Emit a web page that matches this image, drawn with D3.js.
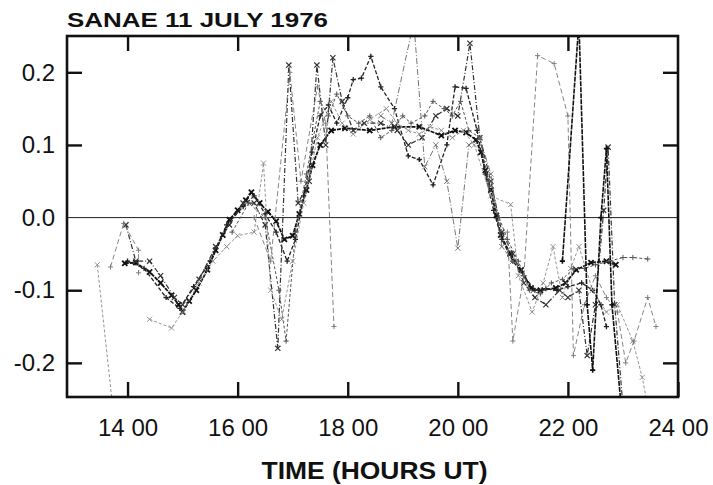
<!DOCTYPE html>
<html lang="en">
<head>
  <meta charset="UTF-8">
  <title>SANAE 11 July 1976</title>
  <script src="https://d3js.org/d3.v7.min.js"></script>
  <style>
    body { margin: 0; background: #fff; }
    text { font-family: "Liberation Sans", Arial, sans-serif; fill: #111; }
  </style>
</head>
<body>
  <svg id="chart" width="713" height="485"></svg>
  <script>
    const width = 713;
    const height = 485;
    const margin = { top: 36, right: 35, bottom: 88, left: 67 };

    const titleText = "SANAE  11 JULY 1976";
    const xTitle = "TIME (HOURS UT)";
    const xTicks = [14, 16, 18, 20, 22, 24];
    const xTickLabels = ["14 00", "16 00", "18 00", "20 00", "22 00", "24 00"];
    const yTicks = [0.2, 0.1, 0.0, -0.1, -0.2];
    const yTickLabels = ["0.2", "0.1", "0.0", "-0.1", "-0.2"];

    // each trace: [hour, value]; null breaks the line
    const trace1 = [[13.95,-0.063],[14.15,-0.062],[14.4,-0.075],[14.6,-0.09],[14.8,-0.107],[14.93,-0.12],[15.0,-0.13],[15.12,-0.115],[15.25,-0.1],[15.45,-0.072],[15.6,-0.045],[15.73,-0.024],[15.85,-0.003],[16.0,0.01],[16.15,0.024],[16.25,0.035],[16.4,0.02],[16.55,0.008],[16.7,-0.005],[16.85,-0.03],[17.0,-0.025],[17.12,0.005],[17.25,0.038],[17.36,0.072],[17.5,0.1],[17.7,0.12],[17.95,0.123],[18.4,0.12],[18.85,0.125],[19.3,0.125],[19.7,0.113],[19.95,0.12],[20.15,0.117],[20.33,0.107],[20.42,0.09],[20.5,0.065],[20.6,0.038],[20.7,0.003],[20.78,-0.024],[20.95,-0.05],[21.15,-0.072],[21.33,-0.097],[21.5,-0.1],[21.78,-0.097],[21.96,-0.09],[22.15,-0.072],[22.42,-0.062],[22.7,-0.06],[22.87,-0.065]];
    const trace2 = [[14.0,-0.06],[14.3,-0.07],[14.7,-0.11],[14.95,-0.125],[15.2,-0.095],[15.5,-0.06],[15.8,-0.01],[16.1,0.015],[16.3,0.03],[16.5,0.005],[16.7,-0.02],[16.9,-0.06],[17.05,-0.03],[17.2,0.03],[17.35,0.09],[17.5,0.14],[17.65,0.155],[17.8,0.13],[18.0,0.165],[18.1,0.19],[18.25,0.192],[18.42,0.222],[18.6,0.18],[18.85,0.15],[19.1,0.085],[19.3,0.08],[19.55,0.045],[19.8,0.1],[19.95,0.18],[20.15,0.178],[20.35,0.12],[20.5,0.06],[20.65,0.01],[20.8,-0.03],[21.0,-0.06],[21.2,-0.08],[21.4,-0.1],[21.6,-0.098],[21.8,-0.1],[22.0,-0.095],[22.25,-0.09],[22.45,-0.1],[22.6,-0.12],[22.7,-0.15]];
    const trace3 = [[13.97,-0.01],[14.15,-0.06],[14.4,-0.06],[14.6,-0.08],[14.85,-0.11],[15.0,-0.12],[15.3,-0.085],[15.6,-0.04],[15.85,-0.01],[16.1,0.02],[16.3,0.02],[16.5,-0.01],[16.73,-0.18],[16.93,0.21],[17.1,0.02],[17.3,0.05],[17.44,0.21],[17.6,0.1],[17.73,0.22],[17.9,0.16],[18.1,0.12],[18.3,0.13],[18.6,0.13],[18.9,0.12],[19.1,0.1],[19.35,0.11],[19.6,0.14],[19.8,0.15],[20.0,0.14],[20.22,0.24],[20.4,0.11],[20.6,0.05],[20.8,-0.02],[21.0,-0.05],[21.2,-0.09],[21.4,-0.11],[21.6,-0.12],[21.85,-0.1],[22.0,-0.11],[22.2,-0.1],[22.35,-0.19],[22.5,-0.12],[22.65,0.01],[22.73,0.097],[22.85,-0.12],[23.0,-0.26]];
    const trace4 = [[15.9,-0.02],[16.2,0.02],[16.5,0.0],[16.75,-0.1],[16.88,-0.17],[17.05,-0.02],[17.25,0.06],[17.5,0.16],[17.65,0.14],[17.8,0.17],[18.0,0.14],[18.2,0.13],[18.4,0.14],[18.6,0.11],[18.8,0.12],[19.0,0.14],[19.15,0.13],[19.4,0.14],[19.55,0.16],[19.75,0.15],[19.9,0.14],[20.05,0.16],[20.2,0.12],[20.4,0.11],[20.55,0.05],[20.75,0.0],[20.9,-0.03],[21.1,-0.06],[21.3,-0.1],[21.5,-0.105],[21.7,-0.09],[21.9,-0.085],[22.1,-0.07],[22.3,-0.07],[22.5,-0.065],[22.75,-0.06],[23.0,-0.055],[23.18,-0.055],[23.45,-0.057]];
    const trace5 = [[13.45,-0.065],[13.73,-0.26],null,[14.4,-0.14],[14.8,-0.152],[15.0,-0.13],[15.3,-0.09],[15.55,-0.06],[15.8,-0.04],[16.0,-0.025],[16.3,-0.02],[16.47,0.075],[16.6,-0.1],[16.8,-0.14],[17.0,-0.06],[17.2,0.02],[17.45,0.11],[17.7,0.16],[17.9,0.13],[18.1,0.115],[18.4,0.135],[18.7,0.15],[18.9,0.13],[19.1,0.12],[19.3,0.115],[19.5,0.125],[19.7,0.12],[19.9,0.11],[20.1,0.12],[20.3,0.1],[20.6,0.03],[20.96,0.018],[21.1,-0.08],[21.35,-0.13],[21.55,-0.09],[21.73,-0.04],[21.9,-0.11],[22.05,-0.07],[22.2,-0.04],[22.45,-0.1],[22.7,-0.13],[22.9,-0.12],[23.18,-0.17],[23.35,-0.22],[23.45,-0.26]];
    const trace6 = [[13.69,-0.068],[13.93,-0.008],[14.2,-0.045],[14.2,-0.076],null,[16.3,0.0],[16.6,-0.06],[16.95,0.2],[17.15,0.05],[17.45,0.18],[17.6,0.13],[17.75,-0.15],null,[20.9,-0.02],[21.0,-0.17],[21.2,-0.08],[21.45,0.223],[21.75,0.212],[22.0,0.14],[22.1,-0.19],[22.3,-0.12],[22.5,-0.08],[22.7,-0.11],[22.9,-0.13],[23.05,-0.2],[23.2,-0.17],[23.45,-0.11],[23.6,-0.15]];
    const trace7 = [[18.6,0.14],[18.8,0.13],[19.2,0.27],[19.4,0.07],[19.6,0.1],[19.8,0.05],[20.0,-0.042],[20.2,0.1],[20.4,0.11],[20.6,0.06],[20.8,-0.04],[21.0,-0.06]];
    const trace8 = [[21.9,-0.06],[22.2,0.27],[22.35,-0.12],[22.45,-0.21],[22.6,0.0],[22.7,0.095],[22.8,-0.12],[22.98,-0.27]];

    const traces = [
      { pts: trace1, color: "#111", w: 1.8, dash: "4,1", mark: "x" },
      { pts: trace2, color: "#222", w: 1.3, dash: "4,2", mark: "+" },
      { pts: trace3, color: "#333", w: 1.2, dash: "5,2,1,2", mark: "x" },
      { pts: trace4, color: "#555", w: 1.0, dash: "3,2", mark: "+" },
      { pts: trace5, color: "#888", w: 0.9, dash: "3,2", mark: "x" },
      { pts: trace6, color: "#777", w: 0.9, dash: "5,3", mark: "+" },
      { pts: trace7, color: "#666", w: 0.9, dash: "6,2,1,2", mark: "x" },
      { pts: trace8, color: "#111", w: 1.6, dash: "5,1", mark: "+" }
    ];

    const innerW = width - margin.left - margin.right;
    const innerH = height - margin.top - margin.bottom;

    const x = d3.scaleLinear().domain([12.9, 24]).range([0, innerW]);
    const y = d3.scaleLinear().domain([-0.247, 0.25]).range([innerH, 0]);

    const svg = d3.select("#chart");
    const g = svg.append("g").attr("transform", `translate(${margin.left},${margin.top})`);

    svg.append("defs").append("clipPath").attr("id", "plot-clip")
      .append("rect").attr("width", innerW).attr("height", innerH);

    // zero line
    g.append("line")
      .attr("x1", 0).attr("x2", innerW)
      .attr("y1", y(0)).attr("y2", y(0))
      .attr("stroke", "#222").attr("stroke-width", 1);

    const line = d3.line()
      .defined(d => d !== null)
      .x(d => x(d[0]))
      .y(d => y(d[1]));

    const plot = g.append("g").attr("clip-path", "url(#plot-clip)");

    traces.forEach(t => {
      plot.append("path")
        .datum(t.pts)
        .attr("d", line)
        .attr("fill", "none")
        .attr("stroke", t.color)
        .attr("stroke-width", t.w)
        .attr("stroke-dasharray", t.dash);

      const s = 2.6;
      const markPath = t.mark === "x"
        ? `M${-s},${-s}L${s},${s}M${-s},${s}L${s},${-s}`
        : `M${-s},0L${s},0M0,${-s}L0,${s}`;

      plot.selectAll(null)
        .data(t.pts.filter(d => d !== null))
        .enter()
        .append("path")
        .attr("transform", d => `translate(${x(d[0])},${y(d[1])})`)
        .attr("d", markPath)
        .attr("fill", "none")
        .attr("stroke", t.color)
        .attr("stroke-width", t.w);
    });

    // axes, ticks pointing inward on all sides
    const tickLen = 15;
    g.append("g")
      .attr("transform", `translate(0,${innerH})`)
      .call(d3.axisBottom(x).tickValues(xTicks).tickSizeInner(-tickLen).tickSizeOuter(0)
        .tickFormat((d, i) => xTickLabels[i]).tickPadding(22))
      .call(a => a.select(".domain").remove())
      .call(a => a.selectAll("line").attr("stroke", "#111").attr("stroke-width", 2.4))
      .call(a => a.selectAll("text").attr("font-size", 24).attr("fill", "#111"));

    g.append("g")
      .call(d3.axisTop(x).tickValues(xTicks.filter(d => d < 24)).tickSizeInner(-tickLen).tickSizeOuter(0).tickFormat(""))
      .call(a => a.select(".domain").remove())
      .call(a => a.selectAll("line").attr("stroke", "#111").attr("stroke-width", 2.4));

    g.append("g")
      .call(d3.axisLeft(y).tickValues(yTicks.filter(d => d !== 0)).tickSizeInner(-tickLen).tickSizeOuter(0).tickFormat(""))
      .call(a => a.select(".domain").remove())
      .call(a => a.selectAll("line").attr("stroke", "#111").attr("stroke-width", 2.4));

    g.append("g")
      .call(d3.axisLeft(y).tickValues(yTicks).tickSize(0).tickPadding(12)
        .tickFormat((d, i) => yTickLabels[i]))
      .call(a => a.select(".domain").remove())
      .call(a => a.selectAll("text").attr("font-size", 24).attr("fill", "#111"));

    g.append("g")
      .attr("transform", `translate(${innerW},0)`)
      .call(d3.axisRight(y).tickValues(yTicks.filter(d => d !== 0)).tickSizeInner(-tickLen).tickSizeOuter(0).tickFormat(""))
      .call(a => a.select(".domain").remove())
      .call(a => a.selectAll("line").attr("stroke", "#111").attr("stroke-width", 2.4));

    // frame
    g.append("rect")
      .attr("width", innerW).attr("height", innerH)
      .attr("fill", "none").attr("stroke", "#111").attr("stroke-width", 2.6);

    svg.append("text")
      .attr("x", margin.left).attr("y", 27)
      .attr("font-family", "'DejaVu Sans', sans-serif")
      .attr("font-size", 20).attr("font-weight", "bold")
      .attr("textLength", 261).attr("lengthAdjust", "spacingAndGlyphs")
      .text(titleText);

    svg.append("text")
      .attr("x", margin.left + innerW / 2 + 2).attr("y", 479)
      .attr("text-anchor", "middle")
      .attr("font-size", 24).attr("font-weight", "bold")
      .attr("textLength", 226).attr("lengthAdjust", "spacingAndGlyphs")
      .text(xTitle);
  </script>
</body>
</html>
